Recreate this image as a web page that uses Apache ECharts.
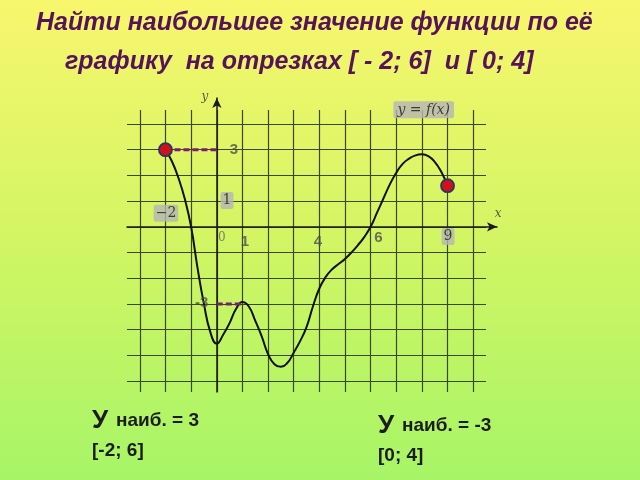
<!DOCTYPE html>
<html>
<head>
<meta charset="utf-8">
<script src="https://cdn.jsdelivr.net/npm/echarts@6/dist/echarts.min.js"></script>
<style>html,body{margin:0;padding:0;}#c{width:640px;height:480px;}</style>
</head>
<body>
<div id="c"></div>
<script>
// ---- data ----
var curveX = [-2, -1.75, -1.5, -1.25, -1, -0.75, -0.5, -0.25, 0, 0.25, 0.5, 0.75, 1, 1.25, 1.5, 1.75, 2, 2.25, 2.5, 2.75, 3, 3.25, 3.5, 3.75, 4, 4.25, 4.5, 4.75, 5, 5.25, 5.5, 5.75, 6, 6.25, 6.5, 6.75, 7, 7.25, 7.5, 7.75, 8, 8.25, 8.5, 8.75, 9];
var curveY = [3, 2.55, 1.92, 1.1, 0, -1.6, -3, -4.1, -4.55, -4.2, -3.75, -3.2, -2.93, -3.1, -3.65, -4.25, -4.95, -5.35, -5.45, -5.3, -4.9, -4.45, -3.9, -3.1, -2.4, -1.95, -1.65, -1.45, -1.25, -1.0, -0.72, -0.4, 0, 0.55, 1.1, 1.65, 2.1, 2.45, 2.65, 2.78, 2.82, 2.75, 2.53, 2.15, 1.6];
var maxDash = [[-2, 3], [0, 3]];
var maxDash2 = [[0, -3], [1, -3]];
var endPoints = [[-2, 3], [9, 1.6]];
var xTicks = [-3, 10];   // vertical grid range
var yTicks = [-6, 4];    // horizontal grid range
var titleLines = ['Найти наибольшее значение функции по её', 'графику  на отрезках [ - 2; 6]  и [ 0; 4]'];
var answers = [
  {big: 'У', rest: 'наиб. = 3', seg: '[-2; 6]'},
  {big: 'У', rest: 'наиб. = -3', seg: '[0; 4]'}
];
// annotation labels: [x, y, text, kind]
var annotations = [
  [0.67, 3, '3', 'gray'],
  [0.4, 1.02, '1', 'box'],
  [-1.98, 0.53, '−2', 'box'],
  [0.2, -0.43, '0', 'plain'],
  [1.1, -0.57, '1', 'gray'],
  [3.95, -0.57, '4', 'gray'],
  [6.3, -0.44, '6', 'gray'],
  [9.02, -0.38, '9', 'box'],
  [-0.59, -2.97, '-3', 'gray'],
  [8.07, 4.55, 'y = f(x)', 'boxit'],
  [-0.46, 5.05, 'y', 'axis'],
  [10.97, 0.5, 'x', 'axis']
];

function lblStyle(kind) {
  if (kind === 'gray') return {color: '#4e4e4e', fontFamily: 'Liberation Sans', fontWeight: 'bold', fontSize: 15, textShadowColor: 'rgba(255,255,255,0.9)', textShadowOffsetX: 1, textShadowOffsetY: 1, textShadowBlur: 0};
  if (kind === 'box') return {color: '#1a1a1a', fontFamily: 'DejaVu Serif', fontSize: 14, backgroundColor: '#b5b5b5', padding: [2, 2, 1, 2], borderRadius: 2};
  if (kind === 'boxit') return {color: '#1a1a1a', fontFamily: 'DejaVu Serif', fontStyle: 'italic', fontSize: 14, backgroundColor: '#b5b5b5', padding: [2, 4, 1, 4], borderRadius: 2};
  if (kind === 'plain') return {color: '#666', fontFamily: 'DejaVu Serif', fontSize: 12};
  return {color: '#333', fontFamily: 'DejaVu Serif', fontStyle: 'italic', fontSize: 12};
}

var curveData = curveX.map(function (x, i) { return [x, curveY[i]]; });
var annData = annotations.map(function (a) {
  var st = lblStyle(a[3]);
  st.show = true; st.position = 'inside'; st.formatter = a[2];
  return {value: [a[0], a[1]], label: st};
});

var chart = echarts.init(document.getElementById('c'), null, {renderer: 'canvas'});
var gridColor = '#3c4816';
var titleFont = 'italic bold 25px "Liberation Sans"';
var option = {
  animation: false,
  backgroundColor: {type: 'linear', x: 0, y: 0, x2: 0, y2: 1, colorStops: [
    {offset: 0, color: '#f8f66d'}, {offset: 0.5, color: '#d2f564'}, {offset: 1, color: '#a6f567'}]},
  grid: [
    {left: 127, top: 124, width: 359, height: 257},
    {left: 140, top: 110, width: 333, height: 282},
    {left: 140, top: 98, width: 333, height: 294},
    {left: 127, top: 124, width: 370, height: 257}
  ],
  xAxis: [
    {gridIndex: 0, type: 'value', min: -3.5, max: 10.5, show: false},
    {gridIndex: 1, type: 'value', min: xTicks[0], max: xTicks[1], interval: 1,
      axisLine: {show: false}, axisTick: {show: false}, axisLabel: {show: false},
      splitLine: {show: true, lineStyle: {color: gridColor, width: 1.2}}},
    {gridIndex: 2, type: 'value', min: xTicks[0], max: xTicks[1], show: false},
    {gridIndex: 3, type: 'value', min: -3.5, max: -3.5 + 370 / (359 / 14),
      axisLine: {show: true, onZero: true, symbol: ['none', 'arrow'], symbolSize: [7, 10], lineStyle: {color: '#1a1a1a', width: 1.5}},
      axisTick: {show: false}, axisLabel: {show: false}, splitLine: {show: false}}
  ],
  yAxis: [
    {gridIndex: 0, type: 'value', min: yTicks[0], max: yTicks[1], interval: 1,
      axisLine: {show: false}, axisTick: {show: false}, axisLabel: {show: false},
      splitLine: {show: true, lineStyle: {color: gridColor, width: 1.2}}},
    {gridIndex: 1, type: 'value', min: 0, max: 1, show: false},
    {gridIndex: 2, type: 'value', min: -6.43, max: 5.0,
      axisLine: {show: true, onZero: true, symbol: ['none', 'arrow'], symbolSize: [7, 10], lineStyle: {color: '#1a1a1a', width: 1.5}},
      axisTick: {show: false}, axisLabel: {show: false}, splitLine: {show: false}},
    {gridIndex: 3, type: 'value', min: yTicks[0], max: yTicks[1], show: false}
  ],
  graphic: [
    {type: 'text', x: 36, y: 23, style: {text: titleLines[0], font: titleFont, fill: '#56125a', verticalAlign: 'middle', textShadowColor: 'rgba(30,0,30,0.85)', textShadowOffsetX: 1.5, textShadowOffsetY: 1.5}},
    {type: 'text', x: 65, y: 62, style: {text: titleLines[1], font: titleFont, fill: '#56125a', verticalAlign: 'middle', textShadowColor: 'rgba(30,0,30,0.85)', textShadowOffsetX: 1.5, textShadowOffsetY: 1.5}},
    {type: 'text', x: 92, y: 421, style: {text: answers[0].big, font: 'bold 26px "Liberation Sans"', fill: '#1c1c1c', verticalAlign: 'middle'}},
    {type: 'text', x: 116, y: 421, style: {text: answers[0].rest, font: 'bold 19px "Liberation Sans"', fill: '#1c1c1c', verticalAlign: 'middle'}},
    {type: 'text', x: 92, y: 451, style: {text: answers[0].seg, font: 'bold 19px "Liberation Sans"', fill: '#1c1c1c', verticalAlign: 'middle'}},
    {type: 'text', x: 378, y: 426, style: {text: answers[1].big, font: 'bold 26px "Liberation Sans"', fill: '#1c1c1c', verticalAlign: 'middle'}},
    {type: 'text', x: 402, y: 426, style: {text: answers[1].rest, font: 'bold 19px "Liberation Sans"', fill: '#1c1c1c', verticalAlign: 'middle'}},
    {type: 'text', x: 378, y: 456, style: {text: answers[1].seg, font: 'bold 19px "Liberation Sans"', fill: '#1c1c1c', verticalAlign: 'middle'}}
  ],
  series: [
    {type: 'line', xAxisIndex: 0, yAxisIndex: 0, data: curveData, smooth: 0.5, showSymbol: false,
      lineStyle: {color: '#111', width: 2}, z: 3},
    {type: 'line', xAxisIndex: 0, yAxisIndex: 0, data: maxDash, showSymbol: false,
      lineStyle: {color: '#7c1a78', width: 3, type: [6, 3]}, z: 4},
    {type: 'line', xAxisIndex: 0, yAxisIndex: 0, data: maxDash2, showSymbol: false,
      lineStyle: {color: '#7c1a78', width: 3, type: [6, 3]}, z: 4},
    {type: 'scatter', xAxisIndex: 0, yAxisIndex: 0, data: endPoints, symbolSize: 13,
      itemStyle: {color: '#d0101c', borderColor: '#1d3a66', borderWidth: 1.8, opacity: 1}, z: 5},
    {type: 'scatter', xAxisIndex: 0, yAxisIndex: 0, data: annData, symbolSize: 1, clip: false,
      itemStyle: {color: 'rgba(0,0,0,0)'}, z: 6}
  ]
};
chart.setOption(option);
</script>
</body>
</html>
